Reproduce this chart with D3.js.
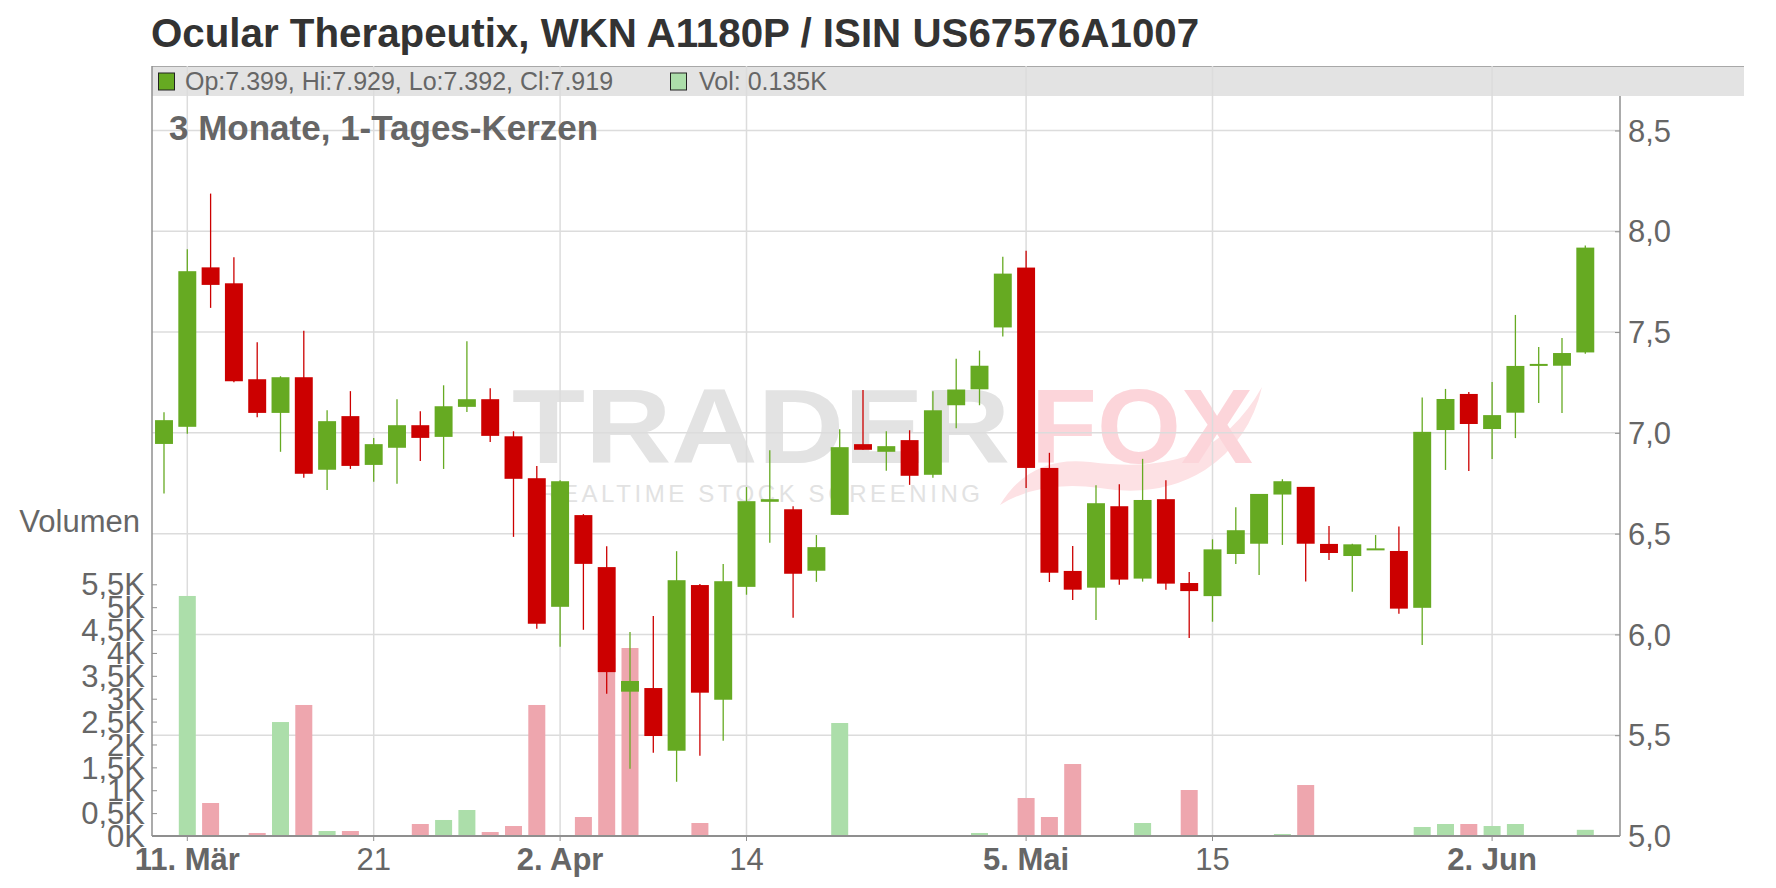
<!DOCTYPE html>
<html>
<head>
<meta charset="utf-8">
<script src="https://cdn.jsdelivr.net/npm/d3@7/dist/d3.min.js"></script>
<style>
  html, body { margin: 0; padding: 0; background: #ffffff; }
  svg { display: block; font-family: "Liberation Sans", Arial, sans-serif; }
</style>
</head>
<body>
<svg id="chart" width="1776" height="888"></svg>
<script>
// ---------- data ----------
const dates = [
  "2025-03-10","2025-03-11","2025-03-12","2025-03-13","2025-03-14",
  "2025-03-17","2025-03-18","2025-03-19","2025-03-20","2025-03-21",
  "2025-03-24","2025-03-25","2025-03-26","2025-03-27","2025-03-28",
  "2025-03-31","2025-04-01","2025-04-02","2025-04-03","2025-04-04",
  "2025-04-07","2025-04-08","2025-04-09","2025-04-10","2025-04-11",
  "2025-04-14","2025-04-15","2025-04-16","2025-04-17",
  "2025-04-22","2025-04-23","2025-04-24","2025-04-25",
  "2025-04-28","2025-04-29","2025-04-30","2025-05-02",
  "2025-05-05","2025-05-06","2025-05-07","2025-05-08","2025-05-09",
  "2025-05-12","2025-05-13","2025-05-14","2025-05-15","2025-05-16",
  "2025-05-19","2025-05-20","2025-05-21","2025-05-22","2025-05-23",
  "2025-05-26","2025-05-27","2025-05-28","2025-05-29","2025-05-30",
  "2025-06-02","2025-06-03","2025-06-04","2025-06-05","2025-06-06"
];
const openPrices = [
  6.945,7.030,7.821,7.742,7.266, 7.099,7.276,6.817,7.083,6.841,
  6.926,7.038,6.980,7.129,7.167, 6.983,6.775,6.137,6.592,6.334,
  5.716,5.734,5.423,6.245,5.676, 6.236,6.658,6.621,6.316,
  6.593,6.944,6.906,6.964, 6.792,7.137,7.216,7.523,
  7.820,6.826,6.315,6.232,6.636, 6.277,6.671,6.255,6.190,6.399,
  6.450,6.694,6.732,6.449,6.389, 6.424,6.414,6.132,7.014,7.193,
  7.019,7.100,7.335,7.333,7.399
];
const highPrices = [
  7.102,7.911,8.187,7.871,7.450, 7.281,7.507,7.112,7.207,6.974,
  7.167,7.107,7.236,7.455,7.221, 7.008,6.835,6.765,6.597,6.438,
  6.012,6.091,6.413,6.250,6.349, 6.731,6.914,6.636,6.493,
  7.018,7.212,7.008,7.013, 7.207,7.368,7.408,7.874,
  7.904,6.901,6.439,6.740,6.745, 6.871,6.765,6.310,6.472,6.631,
  6.697,6.770,6.732,6.538,6.450, 6.493,6.536,7.176,7.218,7.203,
  7.252,7.585,7.426,7.471,7.929
];
const lowPrices = [
  6.699,6.995,7.620,7.251,7.078, 6.906,6.777,6.717,6.821,6.757,
  6.747,6.861,6.821,7.104,6.955, 6.484,6.028,5.939,6.023,5.706,
  5.334,5.413,5.269,5.398,5.473, 6.197,6.455,6.083,6.261,
  6.593,6.916,6.812,6.742, 6.777,7.023,7.137,7.478,
  6.727,6.260,6.171,6.071,6.247, 6.262,6.222,5.982,6.063,6.349,
  6.295,6.444,6.262,6.369,6.212, 6.419,6.103,5.948,6.816,6.811,
  6.870,6.974,7.148,7.098,7.392
];
const closePrices = [
  7.063,7.802,7.734,7.256,7.099, 7.276,6.797,7.058,6.836,6.944,
  7.038,6.975,7.132,7.167,6.985, 6.772,6.053,6.760,6.350,5.813,
  5.769,5.496,6.269,5.711,6.264, 6.661,6.671,6.301,6.433,
  6.929,6.916,6.934,6.787, 7.112,7.215,7.333,7.790,
  6.826,6.306,6.222,6.651,6.272, 6.667,6.252,6.215,6.422,6.517,
  6.697,6.760,6.450,6.404,6.447, 6.427,6.128,7.005,7.168,7.044,
  7.088,7.332,7.342,7.396,7.919
];
// volume in thousands
const volumeK = [
  0,5.245,0.721,0.022,0.066, 2.490,2.863,0.109,0.109,0,
  0,0.262,0.350,0.568,0.087, 0.218,2.863,0,0.415,3.900,
  4.108,0,0,0.284,0, 0,0,0,0,
  2.469,0,0,0, 0,0,0.066,0,
  0.830,0.415,1.573,0,0, 0.284,0,1.005,0,0,
  0,0.044,1.114,0,0.022, 0,0.022,0.197,0.262,0.262,
  0.218,0.262,0,0,0.135
];
const priceTicks = [5.0,5.5,6.0,6.5,7.0,7.5,8.0,8.5];
const volumeTicks = [0,0.5,1,1.5,2,2.5,3,3.5,4,4.5,5,5.5];
const dateTickDates = ["2025-03-11","2025-03-21","2025-04-02","2025-04-14","2025-05-05","2025-05-15","2025-06-02"];
const dateTickLabels = ["11. Mär","21","2. Apr","14","5. Mai","15","2. Jun"];

const titleText = "Ocular Therapeutix, WKN A1180P / ISIN US67576A1007";
const subtitleText = "3 Monate, 1-Tages-Kerzen";
const legendOHLC = "Op:7.399, Hi:7.929, Lo:7.392, Cl:7.919";
const legendVol = "Vol: 0.135K";

// ---------- layout ----------
const plotLeft = 152, plotRight = 1620, bandTop = 66, bandBottom = 96, bandRight = 1744, plotBottom = 836;
const C_UP = "#66aa22", C_DOWN = "#cc0000", V_UP = "#acdeaa", V_DOWN = "#eea6ae";
const GRID = "#dcdcdc", AXIS = "#8f8f8f", TXT = "#666666";
const AXIS_FONT = 31;

const svg = d3.select("#chart");
svg.append("rect").attr("width",1776).attr("height",888).attr("fill","#fff");

const x = d3.scaleBand().domain(dates).range([152.35, 152.35 + 23.3*dates.length])
  .paddingInner(0.23).paddingOuter(0.115);
const y = d3.scaleLinear().domain([5, 8.5]).range([plotBottom, 130.5]);
const yv = d3.scaleLinear().domain([0, 5.5]).range([plotBottom, 584.3]);
const cx = d => x(d) + x.bandwidth()/2;

// title
svg.append("text").attr("x",151).attr("y",47).attr("font-size",40.3).attr("font-weight","bold")
  .attr("fill","#333333").text(titleText);

// header band
svg.append("rect").attr("x",plotLeft).attr("y",bandTop).attr("width",bandRight-plotLeft)
  .attr("height",bandBottom-bandTop).attr("fill","#e3e3e3");
svg.append("line").attr("x1",plotLeft).attr("x2",bandRight).attr("y1",bandTop+0.5).attr("y2",bandTop+0.5)
  .attr("stroke","#a8a8a8").attr("stroke-width",1);

// watermark
const wm = svg.append("g");
wm.append("text").attr("x",512).attr("y",463).attr("font-size",106).attr("font-weight","bold")
  .attr("fill","#e3e3e3").attr("textLength",498).attr("lengthAdjust","spacingAndGlyphs").text("TRADER");
wm.append("path").attr("d","M1000,505 Q1030,455 1090,462 Q1150,470 1190,455 Q1235,435 1262,387 Q1250,440 1205,470 Q1160,498 1100,488 Q1040,480 1000,505 Z")
  .attr("fill","#fde1e4");
wm.append("text").attr("x",1031).attr("y",463).attr("font-size",106).attr("font-weight","bold")
  .attr("fill","#fcd5da").attr("textLength",222).attr("lengthAdjust","spacingAndGlyphs").text("FOX");
wm.append("text").attr("x",541).attr("y",502).attr("font-size",24)
  .attr("fill","#e2e2e2").attr("textLength",439).attr("lengthAdjust","spacing").text("REALTIME STOCK SCREENING");

// grid
svg.append("g").selectAll("line").data(priceTicks).join("line")
  .attr("x1",plotLeft).attr("x2",plotRight).attr("y1",d=>y(d)).attr("y2",d=>y(d))
  .attr("stroke",GRID).attr("stroke-width",1.5);
svg.append("g").selectAll("line").data(dateTickDates).join("line")
  .attr("x1",d=>cx(d)).attr("x2",d=>cx(d)).attr("y1",bandTop).attr("y2",plotBottom)
  .attr("stroke",GRID).attr("stroke-width",1.5);

// header legend
svg.append("rect").attr("x",158.5).attr("y",73).attr("width",16).attr("height",17)
  .attr("fill",C_UP).attr("stroke","#222").attr("stroke-width",1);
svg.append("text").attr("x",185).attr("y",90).attr("font-size",25).attr("fill",TXT).text(legendOHLC);
svg.append("rect").attr("x",670.5).attr("y",73).attr("width",16).attr("height",17)
  .attr("fill",V_UP).attr("stroke","#222").attr("stroke-width",1);
svg.append("text").attr("x",699).attr("y",90).attr("font-size",25).attr("fill",TXT).text(legendVol);

// subtitle
svg.append("text").attr("x",169).attr("y",140).attr("font-size",35).attr("font-weight","bold")
  .attr("fill",TXT).text(subtitleText);

// volume bars
const volData = dates.map((d,i)=>({d, v:volumeK[i], up: i===0 ? true : closePrices[i] >= closePrices[i-1]}));
svg.append("g").selectAll("rect").data(volData.filter(e=>e.v>0)).join("rect")
  .attr("x",e=>cx(e.d)-8.5).attr("width",17)
  .attr("y",e=>yv(e.v)).attr("height",e=>plotBottom - yv(e.v))
  .attr("fill",e=>e.up ? V_UP : V_DOWN);

// candles
const candles = dates.map((d,i)=>({d,o:openPrices[i],h:highPrices[i],l:lowPrices[i],c:closePrices[i]}));
const cg = svg.append("g").selectAll("g").data(candles).join("g");
cg.append("line").attr("x1",e=>cx(e.d)).attr("x2",e=>cx(e.d))
  .attr("y1",e=>y(e.h)).attr("y2",e=>y(e.l))
  .attr("stroke",e=>e.c>=e.o?C_UP:C_DOWN).attr("stroke-width",1.3);
cg.append("rect").attr("x",e=>x(e.d)).attr("width",x.bandwidth())
  .attr("y",e=>y(Math.max(e.o,e.c)))
  .attr("height",e=>Math.max(2, Math.abs(y(e.o)-y(e.c))))
  .attr("fill",e=>e.c>=e.o?C_UP:C_DOWN);

// axes lines
svg.append("line").attr("x1",plotLeft).attr("x2",plotLeft).attr("y1",bandTop).attr("y2",plotBottom)
  .attr("stroke",AXIS).attr("stroke-width",1.5);
svg.append("line").attr("x1",plotRight).attr("x2",plotRight).attr("y1",bandBottom).attr("y2",plotBottom)
  .attr("stroke",AXIS).attr("stroke-width",1.5);
svg.append("line").attr("x1",plotLeft).attr("x2",plotRight).attr("y1",plotBottom).attr("y2",plotBottom)
  .attr("stroke",AXIS).attr("stroke-width",2);

// price axis (right)
const fmtP = v => d3.format(".1f")(v).replace(".", ",");
const pAxis = svg.append("g").attr("transform",`translate(${plotRight},0)`)
  .call(d3.axisLeft(y).tickValues(priceTicks).tickSize(5).tickFormat(""));
pAxis.select(".domain").remove();
pAxis.selectAll("line").attr("stroke",AXIS);
svg.append("g").selectAll("text").data(priceTicks).join("text")
  .attr("x",plotRight+8).attr("y",d=>y(d)).attr("dy","0.36em")
  .attr("font-size",AXIS_FONT).attr("fill",TXT).text(fmtP);

// volume axis (left)
const fmtV = v => (v % 1 === 0 ? String(v) : d3.format(".1f")(v).replace(".", ",")) + "K";
const vAxis = svg.append("g").attr("transform",`translate(${plotLeft},0)`)
  .call(d3.axisRight(yv).tickValues(volumeTicks).tickSize(5).tickFormat(""));
vAxis.select(".domain").remove();
vAxis.selectAll("line").attr("stroke",AXIS);
svg.append("g").selectAll("text").data(volumeTicks).join("text")
  .attr("x",145).attr("y",d=>yv(d)).attr("dy","0.36em").attr("text-anchor","end")
  .attr("font-size",AXIS_FONT).attr("fill",TXT).text(fmtV);
svg.append("text").attr("x",140).attr("y",532).attr("text-anchor","end")
  .attr("font-size",AXIS_FONT).attr("fill",TXT).text("Volumen");

// date axis (bottom)
const xAxis = svg.append("g").attr("transform",`translate(0,${plotBottom})`)
  .call(d3.axisBottom(x).tickValues(dateTickDates).tickSize(5).tickFormat(""));
xAxis.select(".domain").remove();
xAxis.selectAll("line").attr("stroke",AXIS);
svg.append("g").selectAll("text").data(dateTickDates).join("text")
  .attr("x",d=>cx(d)).attr("y",870).attr("text-anchor","middle")
  .attr("font-size",AXIS_FONT).attr("fill",TXT)
  .attr("font-weight",(d,i)=>dateTickLabels[i].includes(". ")?"bold":"normal")
  .text((d,i)=>dateTickLabels[i]);
</script>
</body>
</html>
